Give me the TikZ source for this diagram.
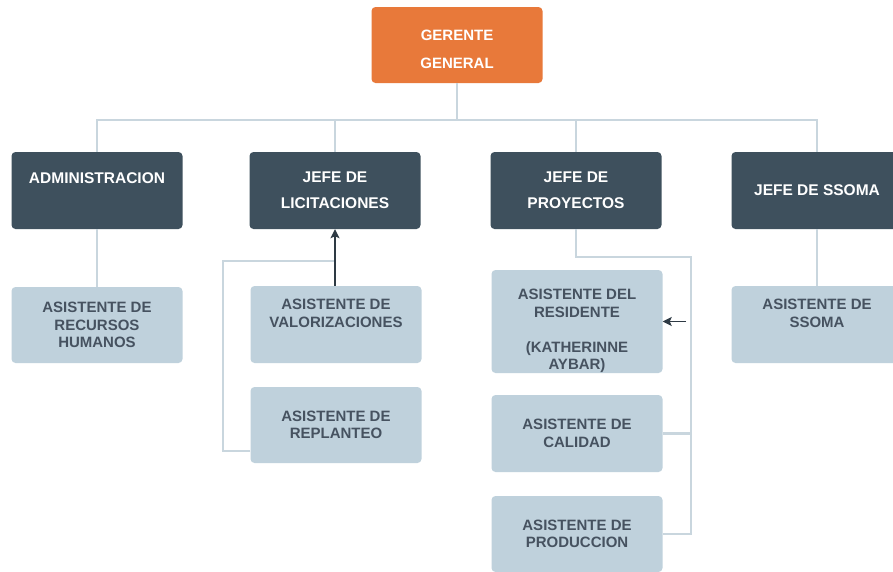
\documentclass[tikz,border=0pt]{standalone}
\usepackage{fontspec}
\setmainfont{Liberation Sans}
\usetikzlibrary{arrows.meta}
\definecolor{orangebox}{HTML}{E8793A}
\definecolor{darkbox}{HTML}{3E505D}
\definecolor{lightbox}{HTML}{BFD1DC}
\definecolor{lighttext}{HTML}{465260}
\definecolor{connline}{HTML}{C9D6DE}
\definecolor{arrowcol}{HTML}{2E3A44}
\tikzset{
  topbox/.style={fill=orangebox, rounded corners=4pt, inner sep=0pt, minimum width=171pt, minimum height=76pt, text=white, align=center, font=\fontsize{15}{28}\selectfont\bfseries},
  midbox/.style={fill=darkbox, rounded corners=4pt, inner sep=0pt, minimum width=171pt, minimum height=77pt, text=white, align=center, font=\fontsize{15.5}{26}\selectfont\bfseries},
  lowbox/.style={fill=lightbox, rounded corners=4pt, inner sep=0pt, minimum width=171pt, text=lighttext, align=center, font=\fontsize{15}{17.5}\selectfont\bfseries},
  conn/.style={draw=connline, line width=2.6pt},
  arrowline/.style={draw=arrowcol, line width=1.8pt, -{Stealth[length=9pt,width=9pt,inset=2pt]}},
}
\begin{document}
\begin{tikzpicture}[x=1pt,y=-1pt]
\useasboundingbox (0,0) rectangle (893,571);
\clip (0,0) rectangle (893,571);
\fill[white] (0,0) rectangle (893,571);
% top
\node[topbox] (ger) at (457,45) {\strut GERENTE\\GENERAL};
% level 2
\node[midbox] (adm) at (97,190.5) {ADMINISTRACION\\[-8pt]\strut};
\node[midbox] (lic) at (335,190.5) {JEFE DE\\LICITACIONES};
\node[midbox] (proy) at (576,190.5) {JEFE DE\\PROYECTOS};
\node[midbox] (ssoma) at (817,190.5) {JEFE DE SSOMA};
% level 3
\node[lowbox, minimum height=76pt] (rrhh) at (97,325) {ASISTENTE DE\\RECURSOS\\HUMANOS};
\node[lowbox, minimum height=77pt] (valor) at (336,324.5) {ASISTENTE DE\\VALORIZACIONES\\\strut};
\node[lowbox, minimum height=76pt] (repl) at (336,425) {ASISTENTE DE\\REPLANTEO};
\node[lowbox, minimum height=103pt] (res) at (577,321.5) {\strut\\ASISTENTE DEL\\RESIDENTE\\\strut\\(KATHERINNE\\AYBAR)};
\node[lowbox, minimum height=77pt] (cal) at (577,433.5) {ASISTENTE DE\\CALIDAD};
\node[lowbox, minimum height=76pt] (prod) at (577,534) {ASISTENTE DE\\PRODUCCION};
\node[lowbox, minimum height=77pt] (assoma) at (817,324.5) {ASISTENTE DE\\SSOMA\\\strut};
% coordinates
\coordinate (bus) at (457,120);
\coordinate (lj) at (335,261);
\coordinate (lk) at (223,261);
\coordinate (pr) at (691,257);
\coordinate (pa) at (686,321.5);
% connectors level 1-2
\draw[conn] (ger.south) -- (bus);
\draw[conn] (adm.north) |- (bus) -| (ssoma.north);
\draw[conn] (lic.north) -- (lic.north|-bus);
\draw[conn] (proy.north) -- (proy.north|-bus);
% level 2-3
\draw[conn] (adm.south) -- (rrhh.north);
\draw[conn] (ssoma.south) -- (assoma.north);
\draw[conn] ([yshift=-26pt]repl.west) -| (lk) -- (lj);
\draw[arrowline] (valor.north-|lic.south) -- (lic.south);
\draw[conn] (proy.south) |- (pr) |- (prod.east);
\draw[conn] (cal.east) -- (cal.east-|pr);
\draw[arrowline] (pa) -- (res.east);
\end{tikzpicture}
\end{document}
